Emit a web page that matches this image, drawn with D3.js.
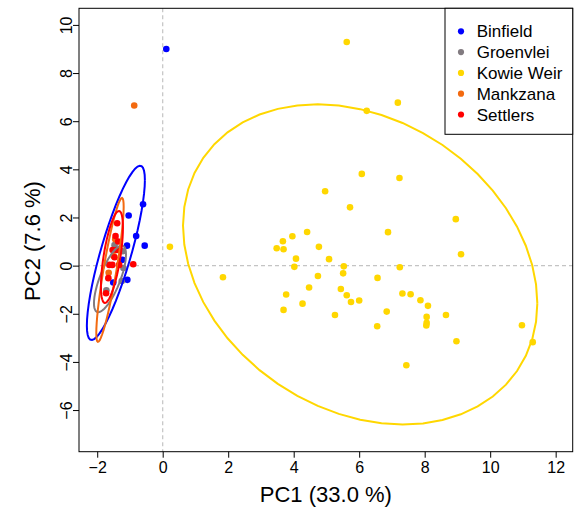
<!DOCTYPE html>
<html>
<head>
<meta charset="utf-8">
<script src="https://cdn.jsdelivr.net/npm/d3@7"></script>
<style>
	body { margin: 0; background: #fff; }
	text { font-family: "Liberation Sans", Arial, Helvetica, sans-serif; fill: #000; }
</style>
</head>
<body>
<svg id="pca" width="574" height="517"></svg>
<script>
/*
	PCA scores plot, one colour per site, with a data ellipse per site
*/
const groups = ["Binfield", "Groenvlei", "Kowie Weir", "Mankzana", "Settlers"];
const colors = ["#0000FF", "#827B80", "#FFD700", "#F36A10", "#FF0000"];

// PC1 / PC2 scores
const binfieldX = [0.11, -0.60, -1.04, -0.81, -1.09, -0.55, -1.23, -1.08, -1.51];
const binfieldY = [9.00, 2.55, 2.08, 1.23, 0.83, 0.83, 0.24, -0.59, -0.70];
const groenvleiX = [-1.47, -1.22, -1.20, -1.25, -1.72];
const groenvleiY = [0.85, 0.60, -0.10, -0.64, -1.02];
const kowieX = [5.62, 6.23, 7.18, 6.08, 4.96, 5.72, 4.41, 3.96, 3.67, 3.48,
	3.69, 4.77, 4.07, 5.08, 4.02, 5.53, 5.51, 4.74, 1.84, 6.56,
	4.47, 5.44, 5.62, 3.77, 5.75, 6.00, 4.27, 3.69, 5.26, 6.55,
	0.22, 7.23, 8.95, 6.88, 9.11, 7.24, 7.32, 7.57, 7.87, 8.10,
	6.84, 8.65, 8.06, 8.06, 8.05, 10.97, 8.97, 11.30, 7.44];
const kowieY = [9.29, 6.43, 6.77, 3.81, 3.09, 2.42, 1.40, 1.22, 1.01, 0.72,
	0.68, 0.78, 0.29, 0.27, -0.05, -0.03, -0.32, -0.43, -0.48, -0.51,
	-0.91, -0.97, -1.23, -1.20, -1.51, -1.45, -1.58, -1.84, -2.05, -2.52,
	0.78, 3.64, 1.93, 1.39, 0.47, -0.07, -1.16, -1.19, -1.44, -1.67,
	-1.91, -2.05, -2.13, -2.38, -2.49, -2.48, -3.14, -3.18, -4.14];
const mankzanaX = [-0.87, -1.50, -1.65, -1.45];
const mankzanaY = [6.65, 0.40, -0.30, 1.10];
const settlersX = [-1.39, -1.44, -1.36, -1.53, -1.40, -1.54, -1.63, -1.33, -0.90, -1.66, -1.73, -1.47];
const settlersY = [1.76, 1.23, 1.00, 0.65, 0.65, 0.03, 0.03, 0.03, 0.06, -0.52, -1.15, 0.35];

// ellipse per group: centre, half extents along PC1 / PC2 and correlation
const ellipseCX = [-1.43, -1.61, 6.03, -1.61, -1.55];
const ellipseCY = [0.53, -0.55, 0.05, -0.18, 0.36];
const ellipseSX = [0.886, 0.489, 5.41, 0.418, 0.336];
const ellipseSY = [3.62, 1.383, 6.65, 2.99, 1.91];
const ellipseR = [0.835, 0.732, -0.243, 0.877, 0.636];

const xTicks = [-2, 0, 2, 4, 6, 8, 10, 12];
const yTicks = [-6, -4, -2, 0, 2, 4, 6, 8, 10];
const xLim = [-2.556, 12.52];
const yLim = [-7.73, 10.69];

const seriesX = [binfieldX, groenvleiX, kowieX, mankzanaX, settlersX];
const seriesY = [binfieldY, groenvleiY, kowieY, mankzanaY, settlersY];

const svg = d3.select("#pca");
const plotLeft = 79, plotRight = 572.7, plotTop = 8.3, plotBottom = 451.7;

const xScale = d3.scaleLinear().domain(xLim).range([plotLeft, plotRight]);
const yScale = d3.scaleLinear().domain(yLim).range([plotBottom, plotTop]);

//zero reference lines
svg.append("line")
	.attr("x1", xScale(0)).attr("x2", xScale(0))
	.attr("y1", plotTop).attr("y2", plotBottom)
	.attr("stroke", "#c4c4c4").attr("stroke-width", 1.2).attr("stroke-dasharray", "4,3");
svg.append("line")
	.attr("x1", plotLeft).attr("x2", plotRight)
	.attr("y1", yScale(0)).attr("y2", yScale(0))
	.attr("stroke", "#c4c4c4").attr("stroke-width", 1.2).attr("stroke-dasharray", "4,3");

//axes, R style: outward ticks, no domain line
const xAxis = svg.append("g").attr("class", "xAxis")
	.attr("transform", "translate(0," + plotBottom + ")")
	.call(d3.axisBottom(xScale).tickValues(xTicks).tickSize(6).tickPadding(4));
const yAxis = svg.append("g").attr("class", "yAxis")
	.attr("transform", "translate(" + plotLeft + ",0)")
	.call(d3.axisLeft(yScale).tickValues(yTicks).tickSize(6).tickPadding(4));
svg.selectAll(".xAxis .domain, .yAxis .domain").remove();
svg.selectAll(".tick line").attr("stroke", "#000");
xAxis.selectAll("text")
	.attr("font-size", 16).attr("dy", null).attr("y", 21);
yAxis.selectAll("text")
	.attr("font-size", 16).attr("x", null).attr("dy", null)
	.attr("text-anchor", "middle")
	.attr("transform", "translate(-7,0) rotate(-90)");

//points
seriesX.forEach(function(xs, g){
	svg.append("g").selectAll("circle")
		.data(xs.map(function(d, i){ return [d, seriesY[g][i]]; }))
		.enter().append("circle")
		.attr("cx", function(d){ return xScale(d[0]); })
		.attr("cy", function(d){ return yScale(d[1]); })
		.attr("r", 3.3)
		.attr("fill", colors[g]);
});

//ellipses
const steps = d3.range(0, 53).map(function(k){ return 2 * Math.PI * k / 52; });
const ellipseLine = d3.line()
	.x(function(d){ return xScale(d[0]); })
	.y(function(d){ return yScale(d[1]); });
groups.forEach(function(name, g){
	const r = ellipseR[g];
	const pts = steps.map(function(t){
		return [ellipseCX[g] + ellipseSX[g] * Math.cos(t),
			ellipseCY[g] + ellipseSY[g] * (r * Math.cos(t) + Math.sqrt(1 - r * r) * Math.sin(t))];
	});
	svg.append("path")
		.attr("d", ellipseLine(pts))
		.attr("fill", "none")
		.attr("stroke", colors[g])
		.attr("stroke-width", 2);
});

//box
svg.append("rect")
	.attr("x", plotLeft).attr("y", plotTop)
	.attr("width", plotRight - plotLeft).attr("height", plotBottom - plotTop)
	.attr("fill", "none").attr("stroke", "#000").attr("stroke-width", 1);

//axis titles
svg.append("text")
	.attr("x", (plotLeft + plotRight) / 2).attr("y", 502)
	.attr("text-anchor", "middle").attr("font-size", 22)
	.text("PC1 (33.0 %)");
svg.append("text")
	.attr("transform", "translate(39.5,241) rotate(-90)")
	.attr("text-anchor", "middle").attr("font-size", 22)
	.text("PC2 (7.6 %)");

//legend
const legend = svg.append("g").attr("class", "legend");
legend.append("rect")
	.attr("x", 445).attr("y", plotTop)
	.attr("width", plotRight - 445).attr("height", 126)
	.attr("fill", "#fff").attr("stroke", "#000").attr("stroke-width", 1);
const entry = legend.selectAll("g.entry").data(groups).enter()
	.append("g").attr("class", "entry")
	.attr("transform", function(d, i){ return "translate(461," + (31.3 + i * 20.8) + ")"; });
entry.append("circle").attr("r", 3.1).attr("fill", function(d, i){ return colors[i]; });
entry.append("text").attr("x", 15.7).attr("y", 6)
	.attr("font-size", 17)
	.text(function(d){ return d; });
</script>
</body>
</html>
